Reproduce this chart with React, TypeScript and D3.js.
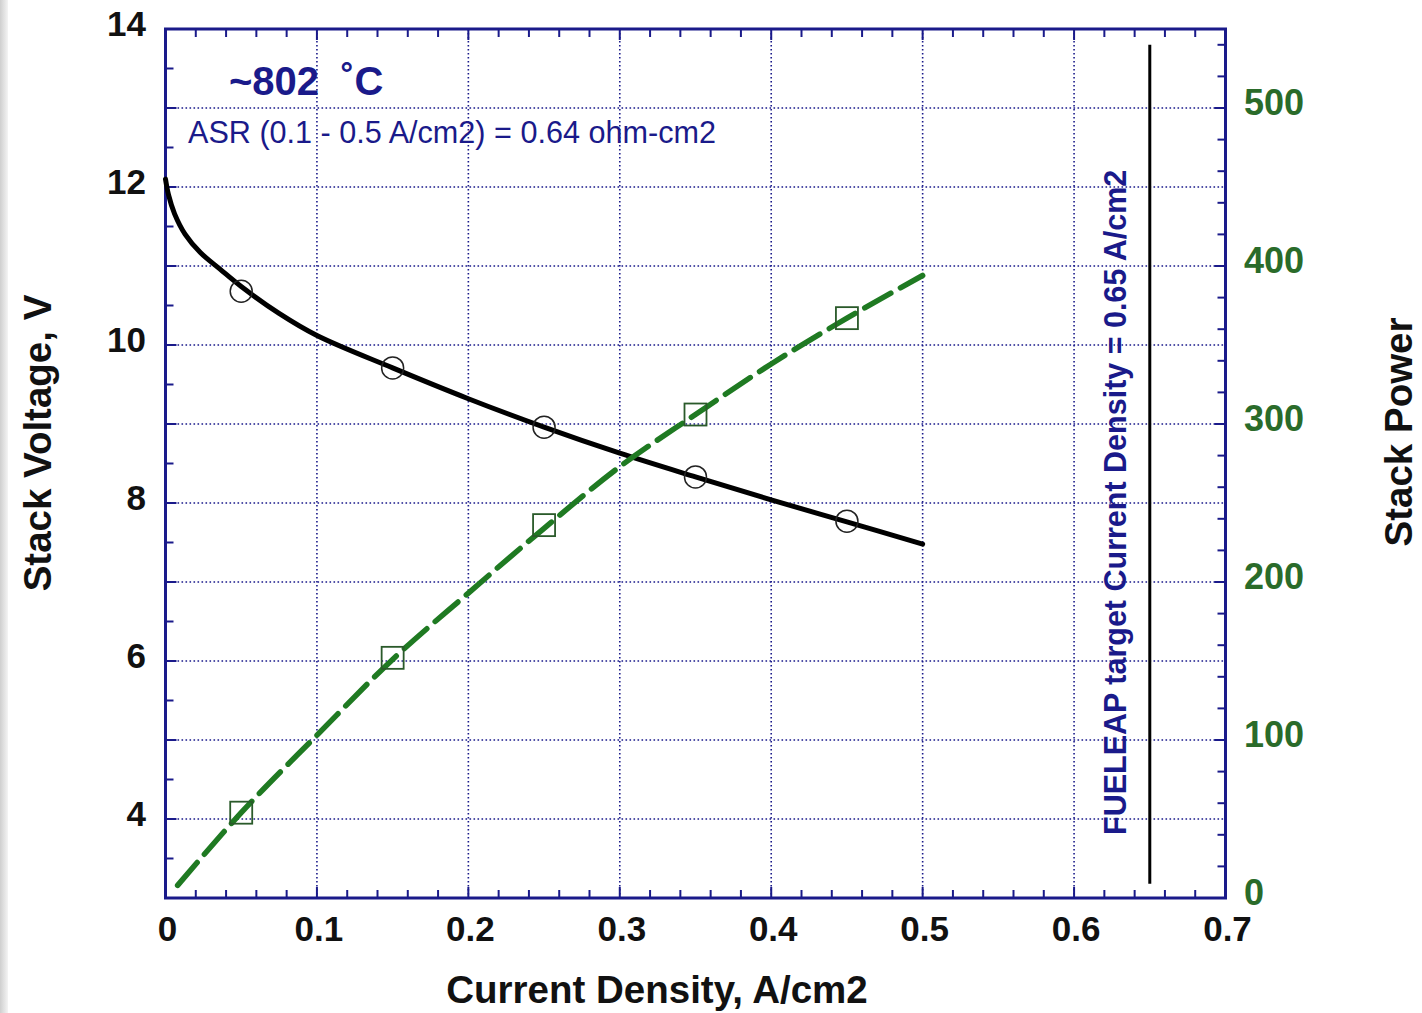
import React from "react";
import * as d3 from "d3";

// Fitted voltage curve (current density A/cm2, stack voltage V)
const vCurveI = [0, 0.002, 0.006, 0.013, 0.023, 0.036, 0.05, 0.075, 0.1, 0.15, 0.2, 0.25, 0.3, 0.35, 0.4, 0.45, 0.5];
const vCurveV = [12.1, 11.9, 11.66, 11.4, 11.17, 10.96, 10.74, 10.4, 10.12, 9.71, 9.32, 8.96, 8.63, 8.33, 8.04, 7.76, 7.48];

// Fitted power curve (current density, stack power W)
const pCurveI = [0.008, 0.05, 0.1, 0.15, 0.2, 0.25, 0.3, 0.35, 0.4, 0.45, 0.5];
const pCurveP = [8, 54, 103, 151, 193, 234, 273, 306, 338, 367, 394];

// Measured points
const markerI = [0.05, 0.15, 0.25, 0.35, 0.45];
const markerV = [10.68, 9.71, 8.96, 8.33, 7.77];
const markerP = [54, 152, 236, 306, 367];

// Target current density annotation
const targetI = 0.65;
const targetSpanV = [13.8, 3.18];

// Axis ticks
const xTickLabels = [0, 0.1, 0.2, 0.3, 0.4, 0.5, 0.6, 0.7];
const yLeftTickLabels = [4, 6, 8, 10, 12, 14];
const yRightTickLabels = [0, 100, 200, 300, 400, 500];

const NAVY = "#1a1a8a";
const GREEN = "#1f7a22";
const GREEN_TXT = "#2a6b2a";
const FONT = "'Liberation Sans', Arial, Helvetica, sans-serif";

export default function App() {
  const W = 1422, H = 1013;
  const L = 165.5, R = 1225.5, T = 29, B = 898;
  const x = d3.scaleLinear().domain([0, 0.7]).range([L, R]);
  const yL = d3.scaleLinear().domain([3, 14]).range([B, T]);
  const yR = d3.scaleLinear().domain([0, 550]).range([B, T]);

  const vLine = d3.line<number>().x((d, i) => x(vCurveI[i])).y((d) => yL(d)).curve(d3.curveCatmullRom.alpha(0.5));
  const pLine = d3.line<number>().x((d, i) => x(pCurveI[i])).y((d) => yR(d)).curve(d3.curveMonotoneX);

  const xMinor = d3.range(0, 0.7001, 0.02);
  const xGrid = d3.range(0.1, 0.65, 0.1);
  const yMinor = d3.range(3.5, 14.001, 0.5);
  const yGrid = d3.range(4, 13.5, 1);
  const rMinor = d3.range(20, 550, 20);

  return (
    <svg width={W} height={H} style={{ position: "absolute", left: 0, top: 0, background: "#fff" }}>
      <defs>
        <linearGradient id="edge" x1="0" x2="1" y1="0" y2="0">
          <stop offset="0" stopColor="#cfcfcf" />
          <stop offset="1" stopColor="#f4f4f4" />
        </linearGradient>
      </defs>
      <rect x={0} y={0} width={W} height={H} fill="#fff" />
      <rect x={0} y={0} width={8} height={H} fill="url(#edge)" />

      {/* grid */}
      <g stroke={NAVY} strokeWidth={1.6} strokeDasharray="1.6,2.4">
        {xGrid.map((v) => (
          <line key={"gx" + v} x1={x(v)} x2={x(v)} y1={T} y2={B} />
        ))}
        {yGrid.map((v) => (
          <line key={"gy" + v} x1={L} x2={R} y1={yL(v)} y2={yL(v)} />
        ))}
      </g>

      {/* ticks */}
      <g stroke={NAVY} strokeWidth={2}>
        {xMinor.map((v, i) => {
          const len = i % 5 === 0 ? 11 : 8;
          return (
            <g key={"xt" + i}>
              <line x1={x(v)} x2={x(v)} y1={B} y2={B - len} />
              <line x1={x(v)} x2={x(v)} y1={T} y2={T + len} />
            </g>
          );
        })}
        {yMinor.map((v, i) => (
          <line key={"yt" + i} x1={L} x2={L + (v % 1 === 0 ? 11 : 8)} y1={yL(v)} y2={yL(v)} />
        ))}
        {rMinor.map((v, i) => (
          <line key={"rt" + i} x1={R} x2={R - (v % 100 === 0 ? 11 : 8)} y1={yR(v)} y2={yR(v)} />
        ))}
      </g>

      {/* frame */}
      <rect x={L} y={T} width={R - L} height={B - T} fill="none" stroke={NAVY} strokeWidth={3} />

      {/* target line */}
      <line x1={x(targetI)} x2={x(targetI)} y1={yL(targetSpanV[0])} y2={yL(targetSpanV[1])} stroke="#000" strokeWidth={3} />
      <text
        transform={`translate(${x(targetI) - 24},${835}) rotate(-90)`}
        fontFamily={FONT}
        fontWeight="bold"
        fontSize={30.5}
        fill={NAVY}
      >
        FUELEAP target Current Density = 0.65 A/cm2
      </text>

      {/* voltage curve */}
      <path d={vLine(vCurveV) || ""} fill="none" stroke="#000" strokeWidth={5} strokeLinecap="round" strokeLinejoin="round" />
      {/* power curve */}
      <path
        d={pLine(pCurveP) || ""}
        fill="none"
        stroke={GREEN}
        strokeWidth={5.5}
        strokeDasharray="30,11"
        strokeLinecap="round"
      />

      {/* markers */}
      {markerI.map((v, i) => (
        <circle key={"c" + i} cx={x(v)} cy={yL(markerV[i])} r={11} fill="none" stroke="#222" strokeWidth={1.5} />
      ))}
      {markerI.map((v, i) => (
        <rect
          key={"s" + i}
          x={x(v) - 11}
          y={yR(markerP[i]) - 11}
          width={22}
          height={22}
          fill="none"
          stroke="#2a5a2a"
          strokeWidth={1.8}
        />
      ))}

      {/* annotations */}
      <text x={229} y={95} fontFamily={FONT} fontWeight="bold" fontSize={40} fill={NAVY}>
        ~802<tspan dx={22}>˚C</tspan>
      </text>
      <text x={188} y={143} fontFamily={FONT} fontSize={30.6} fill={NAVY}>
        ASR (0.1 - 0.5 A/cm2) = 0.64 ohm-cm2
      </text>

      {/* tick labels */}
      <g fontFamily={FONT} fontWeight="bold" fontSize={35} fill="#111">
        {xTickLabels.map((v) => (
          <text key={"xl" + v} x={x(v) + 2} y={928} textAnchor="middle" dominantBaseline="central">
            {String(v)}
          </text>
        ))}
        {yLeftTickLabels.map((v) => (
          <text key={"yl" + v} x={146} y={yL(v) - 6} textAnchor="end" dominantBaseline="central">
            {String(v)}
          </text>
        ))}
      </g>
      <g fontFamily={FONT} fontWeight="bold" fontSize={36} fill={GREEN_TXT}>
        {yRightTickLabels.map((v) => (
          <text key={"yr" + v} x={1244} y={yR(v) - 6} dominantBaseline="central">
            {String(v)}
          </text>
        ))}
      </g>

      {/* axis titles */}
      <g fontFamily={FONT} fontWeight="bold" fontSize={38.5} fill="#111">
        <text x={657} y={1003} textAnchor="middle">
          Current Density, A/cm2
        </text>
        <text transform={`translate(51,443) rotate(-90)`} textAnchor="middle">
          Stack Voltage, V
        </text>
        <text transform={`translate(1412,432) rotate(-90)`} textAnchor="middle">
          Stack Power
        </text>
      </g>
    </svg>
  );
}
